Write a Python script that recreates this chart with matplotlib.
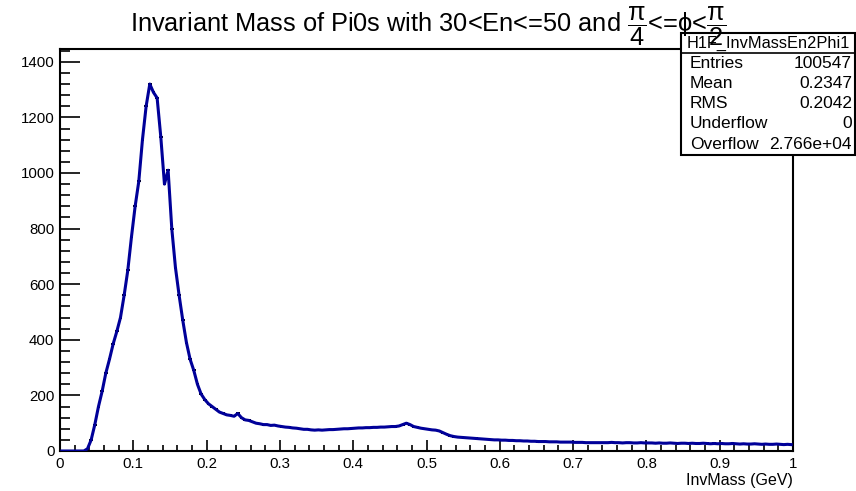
import numpy as np
import matplotlib
matplotlib.use("Agg")
import matplotlib.pyplot as plt
from matplotlib.patches import Rectangle
from matplotlib.lines import Line2D
from matplotlib.ticker import MultipleLocator

plt.rcParams['font.family'] = ['Liberation Sans', 'DejaVu Sans']
plt.rcParams['mathtext.fontset'] = 'custom'
plt.rcParams['mathtext.rm'] = 'Liberation Sans'
plt.rcParams['mathtext.it'] = 'Liberation Sans'
plt.rcParams['mathtext.bf'] = 'Liberation Sans:bold'

# ---- data (bin contents, bins of 0.005 GeV starting at 0) ----
x_min, x_max = 0.0, 1.0
counts = [
    0, 0, 0, 0, 0, 0, 0, 8, 40, 95,
    160, 215, 280, 330, 385, 430, 480, 560, 650, 770,
    880, 970, 1120, 1240, 1320, 1290, 1270, 1130, 960, 1010,
    800, 660, 560, 470, 390, 330, 290, 240, 205, 185,
    170, 160, 150, 140, 135, 130, 128, 125, 135, 120,
    112, 110, 105, 100, 98, 95, 95, 92, 93, 90,
    88, 86, 85, 83, 82, 80, 78, 78, 76, 75,
    76, 75, 76, 77, 77, 78, 79, 80, 80, 81,
    82, 83, 83, 84, 84, 85, 85, 86, 86, 87,
    88, 88, 90, 95, 100, 95, 88, 85, 82, 80,
    78, 76, 75, 72, 66, 60, 55, 52, 50, 49,
    48, 47, 46, 45, 44, 43, 42, 41, 40, 40,
    39, 39, 38, 38, 37, 37, 36, 36, 35, 35,
    34, 34, 34, 33, 33, 33, 32, 32, 32, 32,
    31, 31, 31, 30, 30, 30, 30, 30, 30, 30,
    31, 30, 30, 29, 30, 30, 29, 29, 30, 29,
    29, 29, 28, 29, 28, 28, 29, 28, 27, 28,
    28, 27, 28, 27, 27, 28, 27, 26, 27, 26,
    27, 26, 26, 27, 26, 25, 26, 25, 25, 26,
    25, 24, 25, 24, 24, 25, 24, 23, 24, 23,
]
hist_name = "H1F_InvMassEn2Phi1"
stat_labels = ["Entries", "Mean", "RMS", "Underflow", "Overflow"]
stat_values = ["100547", "0.2347", "0.2042", "0", "2.766e+04"]
title = r"Invariant Mass of Pi0s with 30<En<=50 and $\dfrac{\pi}{4}$<=$\phi$<$\dfrac{\pi}{2}$"
x_label = "InvMass (GeV)"

counts = np.array(counts, dtype=float)
nb = len(counts)
edges = np.linspace(x_min, x_max, nb + 1)
centers = 0.5 * (edges[:-1] + edges[1:])
half = 0.5 * (edges[1] - edges[0])

W, H = 856, 491
fig = plt.figure(figsize=(W / 100, H / 100), dpi=100)
L, R, T, B = 60, 793, 49, 451
ax = fig.add_axes([L / W, 1 - B / H, (R - L) / W, (B - T) / H])

ax.errorbar(centers, counts, xerr=half, fmt='none', ecolor='black', elinewidth=1.4, zorder=2)
ax.plot(centers, counts, color='#000099', lw=2.2, zorder=3)

ax.set_xlim(x_min, x_max)
ax.set_ylim(0, 1446)
ax.xaxis.set_major_locator(MultipleLocator(0.1))
ax.xaxis.set_minor_locator(MultipleLocator(0.02))
ax.yaxis.set_major_locator(MultipleLocator(200))
ax.yaxis.set_minor_locator(MultipleLocator(40))
ax.tick_params(axis='both', which='both', direction='in', top=False, right=False, labelsize=10.8, width=1.2)
ax.tick_params(axis='x', which='major', length=8)
ax.tick_params(axis='x', which='minor', length=4)
ax.tick_params(axis='y', which='major', length=14.4)
ax.tick_params(axis='y', which='minor', length=7.2)
ax.tick_params(axis='x', pad=4)
ax.tick_params(axis='y', pad=4)
ax.set_xticklabels([("0" if abs(v) < 1e-9 else ("1" if abs(v - 1) < 1e-9 else f"{v:.1f}")) for v in ax.get_xticks()])
for s in ax.spines.values():
    s.set_linewidth(1.5)

fig.text(R / W, 1 - 480 / H, x_label, ha='right', va='center', fontsize=11.5)

fig.text(0.5, 1 - 31 / H, title, ha='center', va='baseline', fontsize=18.3, zorder=9)

# stats box
bx0, by0, bx1, by1 = 681, 33, 855, 155
fig.add_artist(Rectangle((bx0 / W, 1 - by1 / H), (bx1 - bx0) / W, (by1 - by0) / H,
                         transform=fig.transFigure, facecolor='white', edgecolor='black', lw=1.5, zorder=5))
fig.add_artist(Line2D([bx0 / W, bx1 / W], [1 - 53 / H, 1 - 53 / H], transform=fig.transFigure,
                      color='black', lw=1.2, zorder=6))
fig.text(687 / W, 1 - 43 / H, hist_name, ha='left', va='center', fontsize=11.8, zorder=7)
for i, (lab, val) in enumerate(zip(stat_labels, stat_values)):
    y = 63 + 20.3 * i
    fig.text(690 / W, 1 - y / H, lab, ha='left', va='center', fontsize=12.5, zorder=7)
    fig.text(852 / W, 1 - y / H, val, ha='right', va='center', fontsize=12.5, zorder=7)

fig.savefig("out.png", dpi=100)
